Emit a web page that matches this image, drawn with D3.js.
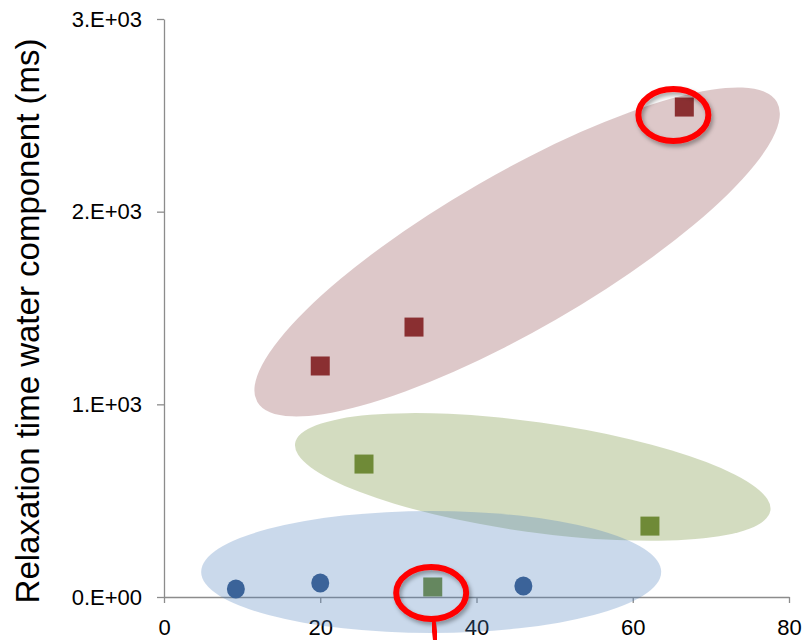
<!DOCTYPE html>
<html>
<head>
<meta charset="utf-8">
<script src="https://cdn.jsdelivr.net/npm/d3@7"></script>
<style>
  body { margin: 0; background: #fff; }
  text { font-family: "Liberation Sans", Arial, sans-serif; }
</style>
</head>
<body>
<div class="canvas"></div>
<script>
// data (x in %, y in ms)
const blueX = [9.2, 20.0, 46.0]
const blueY = [42, 73, 57]
const greenX = [34.4, 25.6, 62.2]
const greenY = [52, 690, 368]
const redX = [20.0, 32.0, 66.6]
const redY = [1199, 1401, 2543]

const xTicks = [0, 20, 40, 60, 80]
const yTicks = [0, 1000, 2000, 3000]
const yTickLabels = ["0.E+00", "1.E+03", "2.E+03", "3.E+03"]
const yTitle = "Relaxation time water component (ms)"

const width = 804
const height = 640

const svg = d3.select(".canvas")
    .append("svg")
    .attr("width", width)
    .attr("height", height)

const defs = svg.append("defs")
const shadow = defs.append("filter")
    .attr("id", "shadow")
    .attr("x", "-20%").attr("y", "-20%")
    .attr("width", "140%").attr("height", "140%")
shadow.append("feDropShadow")
    .attr("dx", 2).attr("dy", 3)
    .attr("stdDeviation", 2)
    .attr("flood-color", "#000")
    .attr("flood-opacity", 0.35)

// scales
const x = d3.scaleLinear().domain([0, 80]).range([164, 789])
const y = d3.scaleLinear().domain([0, 3000]).range([597, 19])

// axes
const xAxisGroup = svg.append("g").attr("transform", `translate(0, ${y(0)})`)
const yAxisGroup = svg.append("g").attr("transform", `translate(${x(0)}, 0)`)

xAxisGroup.call(d3.axisBottom(x)
    .tickValues(xTicks)
    .tickSize(6)
    .tickSizeOuter(0)
    .tickPadding(16)
    .tickFormat(d => d))
yAxisGroup.call(d3.axisLeft(y)
    .tickValues(yTicks)
    .tickSize(7)
    .tickSizeOuter(0)
    .tickPadding(15)
    .tickFormat((d, i) => yTickLabels[i]))

svg.selectAll(".domain, .tick line")
    .attr("stroke", "#8c8c8c")
    .attr("stroke-width", 1.3)
svg.selectAll(".tick text")
    .attr("fill", "#000")
    .style("font-size", "22px")
    .style("font-family", "'Liberation Sans', Arial, sans-serif")

// y title
svg.append("text")
    .attr("transform", `translate(39, 321) rotate(-90)`)
    .attr("text-anchor", "middle")
    .style("font-size", "33px")
    .attr("fill", "#000")
    .text(yTitle)

// cluster ellipses (centres in data units)
const drawEllipse = (cx, cy, rx, ry, angle, color, op) => {
    svg.append("ellipse")
        .attr("cx", 0).attr("cy", 0)
        .attr("rx", rx).attr("ry", ry)
        .attr("transform", `translate(${x(cx)}, ${y(cy)}) rotate(${angle})`)
        .attr("fill", color)
        .attr("fill-opacity", op)
}

drawEllipse(45.2, 1791, 300, 78, -30, "#8f4a4b", 0.3)
drawEllipse(47.2, 623, 240, 55, 8, "#76923c", 0.32)

// markers
const sq = 19
const squares = (xs, ys, color) => {
    svg.append("g").selectAll("rect")
        .data(xs.map((d, i) => ({ x: d, y: ys[i] })))
        .enter()
        .append("rect")
        .attr("x", d => x(d.x) - sq / 2)
        .attr("y", d => y(d.y) - sq / 2)
        .attr("width", sq)
        .attr("height", sq)
        .attr("fill", color)
}
squares(redX, redY, "#8a2f31")
squares(greenX, greenY, "#6f8a37")

svg.append("g").selectAll("ellipse")
    .data(blueX.map((d, i) => ({ x: d, y: blueY[i] })))
    .enter()
    .append("ellipse")
    .attr("cx", d => x(d.x))
    .attr("cy", d => y(d.y))
    .attr("rx", 9)
    .attr("ry", 9.5)
    .attr("fill", "#33578a")

// blue ellipse sits over the markers
drawEllipse(34.2, 130, 230, 61, 0, "#4f81bd", 0.3)

// red highlight rings
const ring = (cx, cy) => {
    svg.append("ellipse")
        .attr("cx", x(cx)).attr("cy", y(cy))
        .attr("rx", 35).attr("ry", 26)
        .attr("fill", "none")
        .attr("stroke", "#ff0000")
        .attr("stroke-width", 6)
        .attr("filter", "url(#shadow)")
}
ring(65.2, 2502)
ring(34.2, 21)

// pointer line leaving the lower ring
svg.append("line")
    .attr("x1", x(34.2) + 2).attr("y1", y(21) + 28)
    .attr("x2", x(34.2) + 5).attr("y2", height + 5)
    .attr("stroke", "#ff0000")
    .attr("stroke-width", 5)
    .attr("filter", "url(#shadow)")
</script>
</body>
</html>
